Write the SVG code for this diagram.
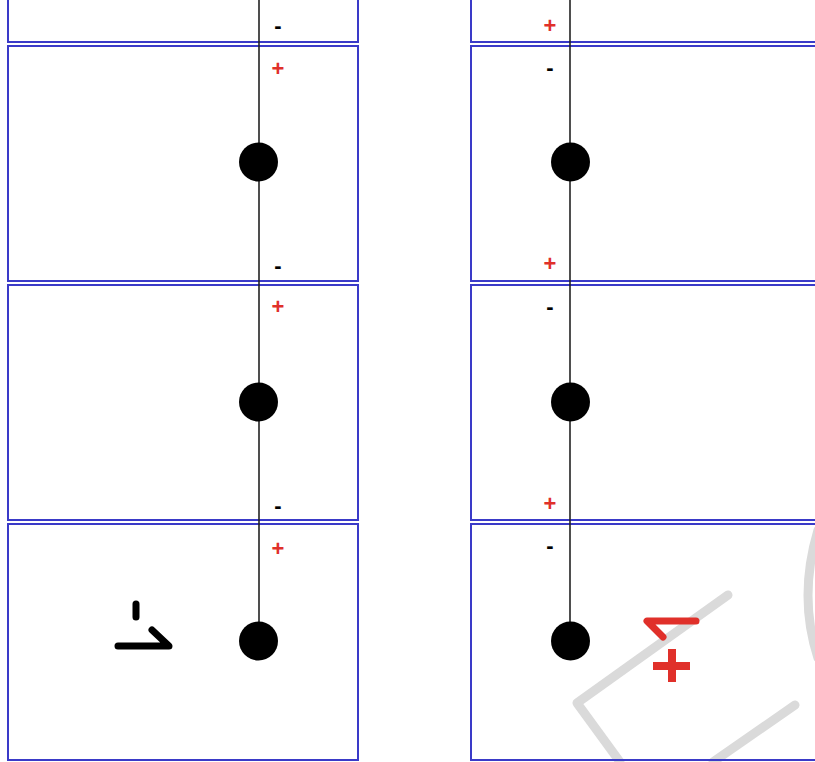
<svg xmlns="http://www.w3.org/2000/svg" width="815" height="762" viewBox="0 0 815 762">
<style>
.box{fill:none;stroke:#3a3ac8;stroke-width:2}
.rod{stroke:#222;stroke-width:1.6}
.ball{fill:#000}
.p{font-family:"Liberation Sans",Arial,sans-serif;font-weight:bold;font-size:22px;fill:#e0302a;text-anchor:middle}
.m{font-family:"Liberation Sans",Arial,sans-serif;font-weight:bold;font-size:22px;fill:#000;text-anchor:middle}
.wm{fill:none;stroke:#dadada;stroke-width:9;stroke-linecap:round;stroke-linejoin:round}
</style>
<rect width="815" height="762" fill="#fff"/>
<g id="watermark">
<path class="wm" d="M728,595 L577,703 L620,762"/>
<path class="wm" d="M795,705 L713,762"/>
<path class="wm" d="M818,530 Q798,597 818,658"/>
</g>
<g id="boxes-left">
<rect class="box" x="8" y="-10" width="350" height="52"/>
<rect class="box" x="8" y="46" width="350" height="235"/>
<rect class="box" x="8" y="285" width="350" height="235"/>
<rect class="box" x="8" y="524" width="350" height="236"/>
</g>
<g id="boxes-right">
<rect class="box" x="471" y="-10" width="360" height="52"/>
<rect class="box" x="471" y="46" width="360" height="235"/>
<rect class="box" x="471" y="285" width="360" height="235"/>
<rect class="box" x="471" y="524" width="360" height="236"/>
</g>
<g id="connectors">
<line class="rod" x1="259" y1="0" x2="259" y2="641"/>
<line class="rod" x1="570" y1="0" x2="570" y2="641"/>
</g>
<g id="balls-left">
<circle class="ball" cx="258.500" cy="162" r="19.500"/>
<circle class="ball" cx="258.500" cy="402" r="19.500"/>
<circle class="ball" cx="258.500" cy="641" r="19.500"/>
</g>
<g id="balls-right">
<circle class="ball" cx="570.500" cy="162" r="19.500"/>
<circle class="ball" cx="570.500" cy="402" r="19.500"/>
<circle class="ball" cx="570.500" cy="641" r="19.500"/>
</g>
<g id="signs-left">
<text class="m" x="278" y="33">-</text>
<text class="p" x="278" y="76">+</text>
<text class="m" x="278" y="273">-</text>
<text class="p" x="278" y="314">+</text>
<text class="m" x="278" y="513">-</text>
<text class="p" x="278" y="556">+</text>
</g>
<g id="signs-right">
<text class="p" x="550" y="33">+</text>
<text class="m" x="550" y="75">-</text>
<text class="p" x="550" y="271">+</text>
<text class="m" x="550" y="314">-</text>
<text class="p" x="550" y="511">+</text>
<text class="m" x="550" y="553">-</text>
</g>
<g id="note-left" fill="none" stroke="#000" stroke-width="7" stroke-linecap="round" stroke-linejoin="round">
<path d="M136,604 L136,617"/>
<path d="M118,646 L169,646 L152,630"/>
</g>
<g id="note-right" fill="none" stroke="#e0302a" stroke-linecap="round" stroke-linejoin="round">
<path d="M663,637 L647,621 L696,621" stroke-width="7"/>
<path d="M653,666 L690,666 M672,649 L672,682" stroke-width="8" stroke-linecap="butt"/>
</g>
</svg>
